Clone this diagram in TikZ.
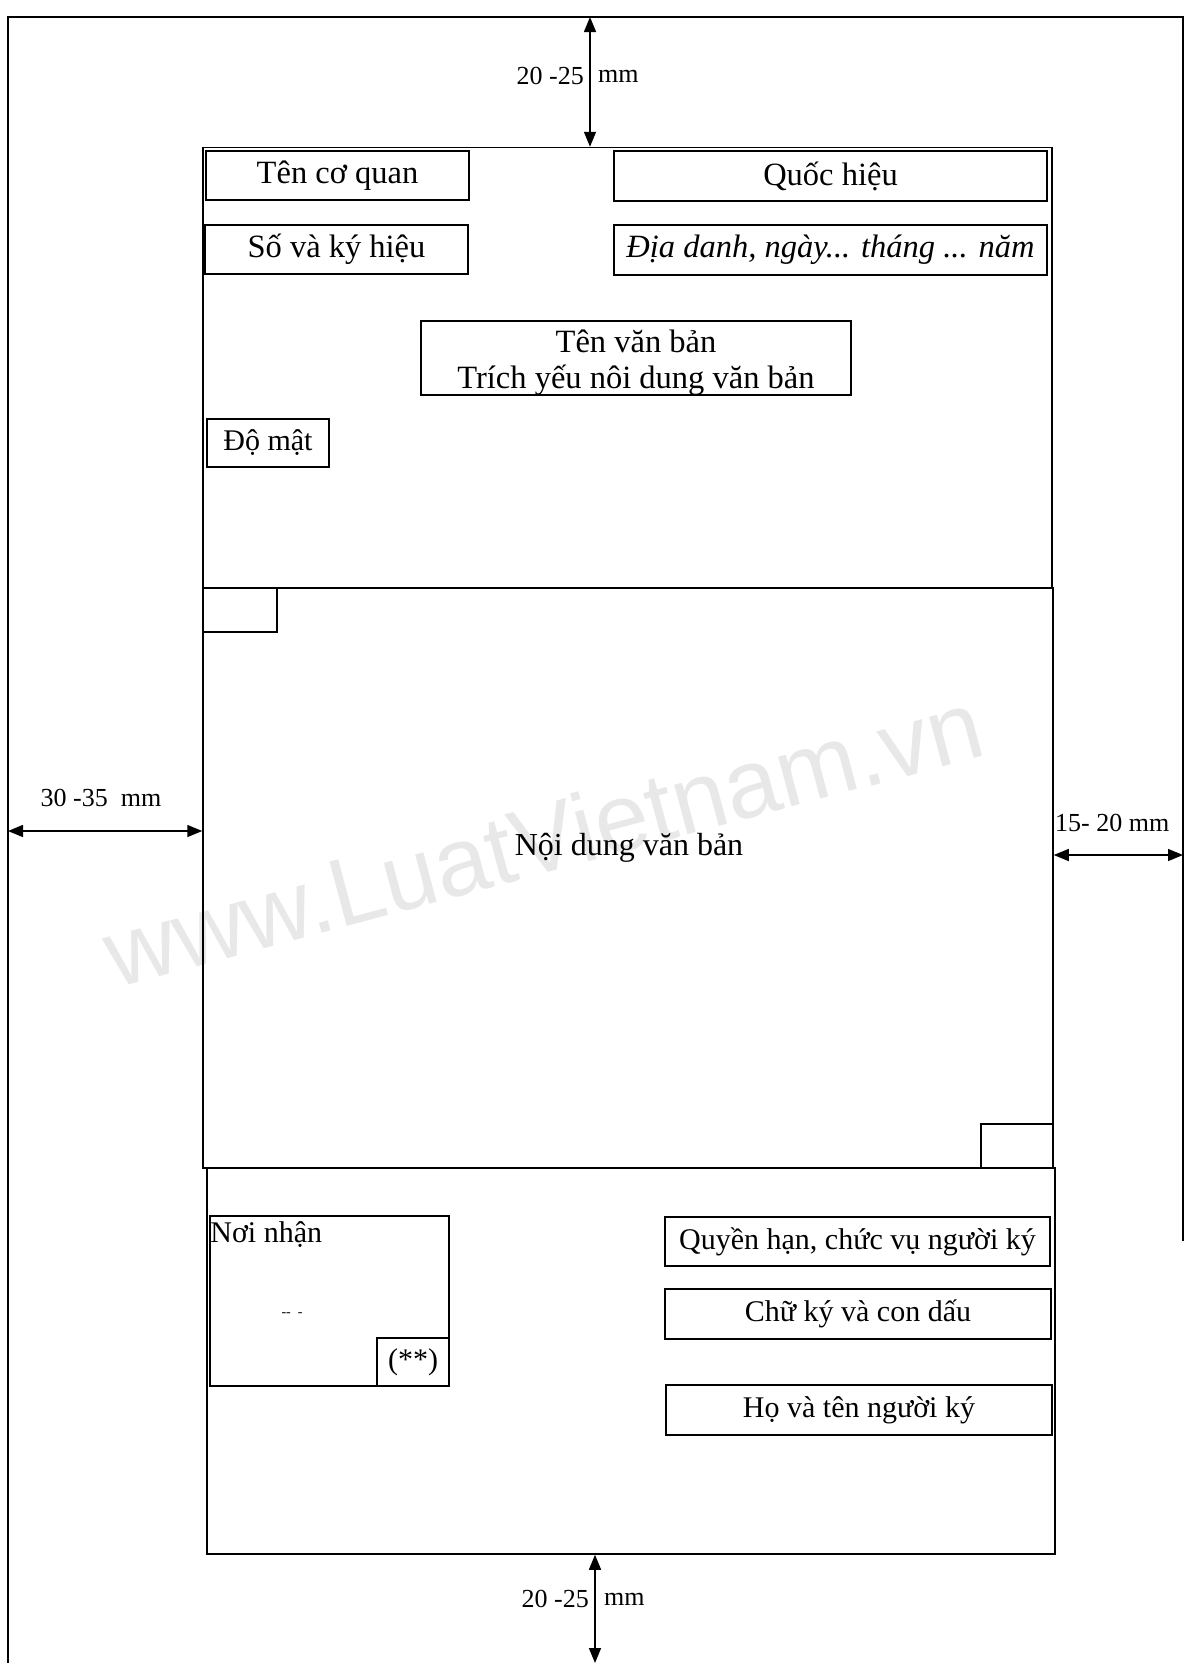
\documentclass[tikz,border=0pt]{standalone}
\usepackage{fontspec}
\setmainfont{Liberation Serif}
\newfontfamily\wmfont{Liberation Sans}
\usetikzlibrary{arrows.meta}
\definecolor{wm}{RGB}{232,232,232}
\begin{document}
\begin{tikzpicture}[x=1pt,y=-1pt,
  box/.style={draw, line width=1.5pt, inner sep=0pt, font=\fontsize{30}{36}\selectfont},
  bigbox/.style={box, font=\fontsize{32.5}{36}\selectfont},
  sec/.style={draw, line width=1.5pt, inner sep=0pt},
  dim/.style={font=\fontsize{26}{30}\selectfont, inner sep=0pt},
  dimarrow/.style={line width=1.5pt, {Triangle[length=15pt,width=12pt]}-{Triangle[length=15pt,width=12pt]}},
]
\useasboundingbox (0,0) rectangle (1186,1663);
% watermark
\node[font=\wmfont\fontsize{97}{100}\selectfont, text=wm, rotate=15, inner sep=0pt] (wmark) at (543,838) {www.LuatVietnam.vn};
% page frame
\coordinate (pbl) at (8,1663);
\coordinate (ptl) at (8,17);
\coordinate (ptr) at (1183,17);
\coordinate (prb) at (1183,1241);
\draw[line width=1.5pt] (pbl) -- (ptl) -- (ptr) -- (prb);
% sections
\node[sec, minimum width=849pt, minimum height=440.5pt] (sectop) at (627.5,367.75) {};
\node[sec, minimum width=850pt, minimum height=580pt] (secmid) at (628,878) {};
\node[sec, minimum width=848pt, minimum height=386pt] (secbot) at (631,1361) {};
% top boxes
\node[bigbox, minimum width=263pt, minimum height=49pt] (ten) at (337.5,175.5) {Tên cơ quan};
\node[bigbox, minimum width=433pt, minimum height=50pt] (qh) at (830.5,176) {Quốc hiệu};
\node[bigbox, minimum width=263pt, minimum height=49pt] (so) at (336.5,249.5) {Số và ký hiệu};
\node[bigbox, minimum width=433pt, minimum height=50pt] (dd) at (830.5,250) {\itshape Địa danh, ngày... tháng ... năm};
\node[sec, minimum width=430pt, minimum height=74pt] (tvb) at (636,358) {};
\node[align=center, inner sep=0pt, font=\fontsize{32.5}{36}\selectfont] (tvbtext) at ([yshift=-5pt]tvb.center) {Tên văn bản\\Trích yếu nôi dung văn bản};
\node[box, minimum width=122pt, minimum height=48pt] (dm) at (268,443) {Độ mật};
% corner boxes
\node[sec, minimum width=74pt, minimum height=44pt] (cornA) at (240,610) {};
\node[sec, minimum width=72pt, minimum height=44pt] (cornB) at (1017,1146) {};
% content
\node[font=\fontsize{32}{36}\selectfont] (nd) at (629,848) {Nội dung văn bản};
% bottom section
\node[sec, minimum width=239pt, minimum height=170pt] (nn) at (329.5,1301) {};
\node[anchor=north west, inner sep=0pt, font=\fontsize{30}{36}\selectfont] (nntext) at ([xshift=1pt,yshift=-6pt]nn.north west) {Nơi nhận};
\node[font=\fontsize{14}{14}\selectfont, inner sep=0pt] (dash) at (292,1315) {-{}-\ \ -};
\node[box, minimum width=72pt, minimum height=48pt] (star) at (413,1362) {(**)};
\node[box, minimum width=385pt, minimum height=49pt] (qhcv) at (857.5,1241.5) {Quyền hạn, chức vụ người ký};
\node[box, minimum width=386pt, minimum height=50pt] (ck) at (858,1314) {Chữ ký và con dấu};
\node[box, minimum width=386pt, minimum height=50pt] (ht) at (859,1410) {Họ và tên người ký};
% dimension arrows
\coordinate (topA) at (590,17);
\draw[dimarrow] (topA) -- (topA |- sectop.north);
\coordinate (leftA) at (8,831);
\draw[dimarrow] (leftA) -- (leftA -| secmid.west);
\coordinate (rightA) at (1183,855);
\draw[dimarrow] (secmid.east |- rightA) -- (rightA);
\coordinate (botA) at (595,1663);
\draw[dimarrow] (botA |- secbot.south) -- (botA);
% dimension labels
\node[dim, anchor=east] (lt1) at (584,76) {20 -25};
\node[dim, anchor=west] (lt2) at (598,76) {mm};
\node[dim] (ll) at (101,798) {30 -35\ \ mm};
\node[dim, anchor=west] (lr) at (1055,823) {15- 20 mm};
\node[dim, anchor=east] (lb1) at (589,1599) {20 -25};
\node[dim, anchor=west] (lb2) at (604,1599) {mm};
\end{tikzpicture}
\end{document}
